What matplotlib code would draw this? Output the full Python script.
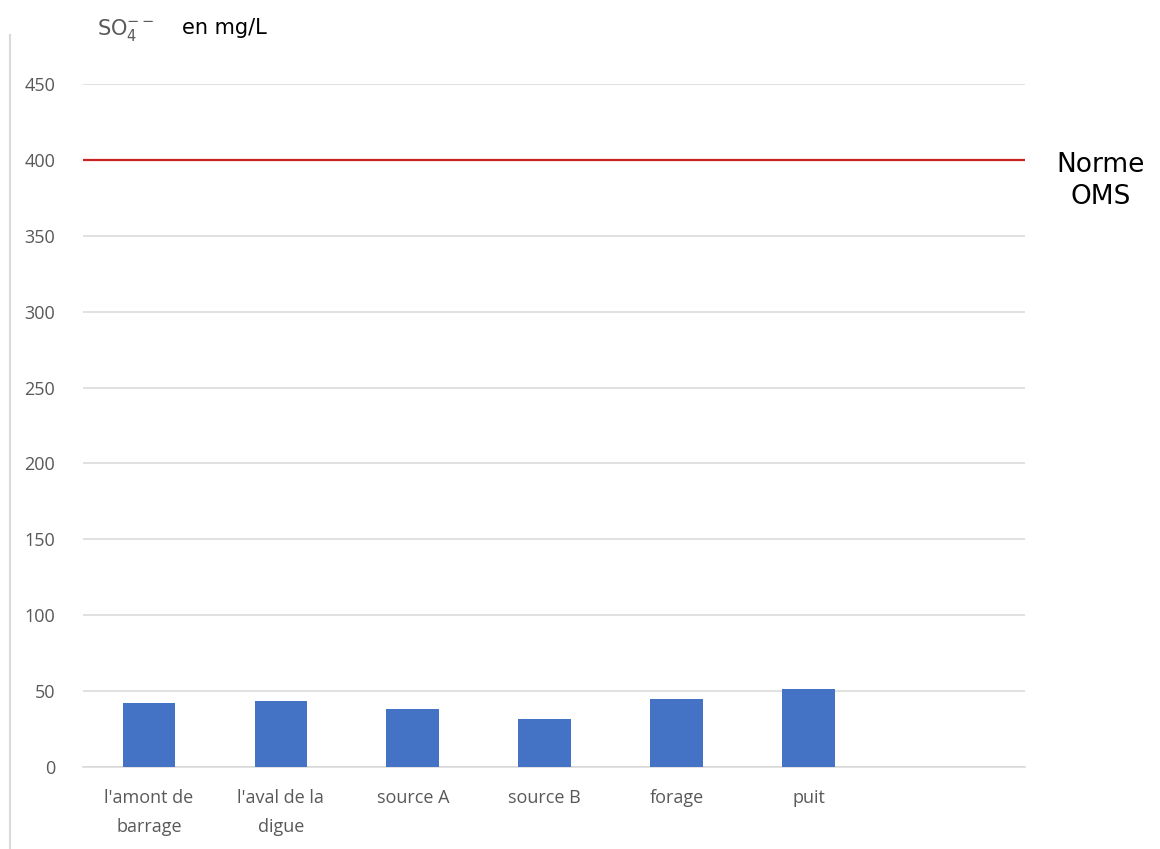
import matplotlib
matplotlib.use('Agg')
import matplotlib.pyplot as plt
from matplotlib.lines import Line2D

# data
sites = ["l'amont de\nbarrage", "l'aval de la\ndigue", "source A", "source B", "forage", "puit"]
sulfate = [42.3, 43.6, 38.3, 31.8, 44.8, 51.4]
norme_oms = 400
yticks = [0, 50, 100, 150, 200, 250, 300, 350, 400, 450]

bar_color = '#4472C4'
grid_color = '#D9D9D9'
tick_color = '#595959'

fig = plt.figure(figsize=(11.6, 8.49), dpi=100)
ax = fig.add_axes([83/1160, 1-767/849, (1025-83)/1160, (767-84)/849])

x = list(range(len(sites)))
ax.bar(x, sulfate, width=0.40, color=bar_color, zorder=3)
ax.axhline(norme_oms, color='#C8231E', lw=1.6, zorder=4)

ax.set_xlim(-0.5, 6.64)
ax.set_ylim(0, 450)
ax.set_yticks(yticks)
ax.grid(axis='y', color=grid_color, lw=1.1, zorder=0)
ax.set_xticks(x)
ax.set_xticklabels(sites, fontsize=13, color=tick_color, family='Open Sans', linespacing=1.75)
ax.tick_params(axis='y', labelsize=13, labelcolor=tick_color, length=0, pad=20)
ax.tick_params(axis='x', length=0, pad=16)
for lbl in ax.get_yticklabels():
    lbl.set_family('Open Sans')
for s in ['top', 'right', 'left']:
    ax.spines[s].set_visible(False)
ax.spines['bottom'].set_color(grid_color)
ax.spines['bottom'].set_linewidth(1.1)

# title with formula
fig.text(97/1160, 1-30/849, r'SO$_4^{--}$', fontsize=15, color='#595959', va='center', ha='left')
fig.text(182/1160, 1-28/849, 'en mg/L', fontsize=15, color='black', va='center', ha='left')

# label for the red line
fig.text(1101/1160, 1-181/849, 'Norme\nOMS', fontsize=19, color='black', ha='center', va='center', linespacing=1.35)

# thin left border of the chart area
fig.add_artist(Line2D([10/1160, 10/1160], [1-848/849, 1-35/849], color='#D9D9D9', lw=1.5))

fig.savefig('out.png', dpi=100)
